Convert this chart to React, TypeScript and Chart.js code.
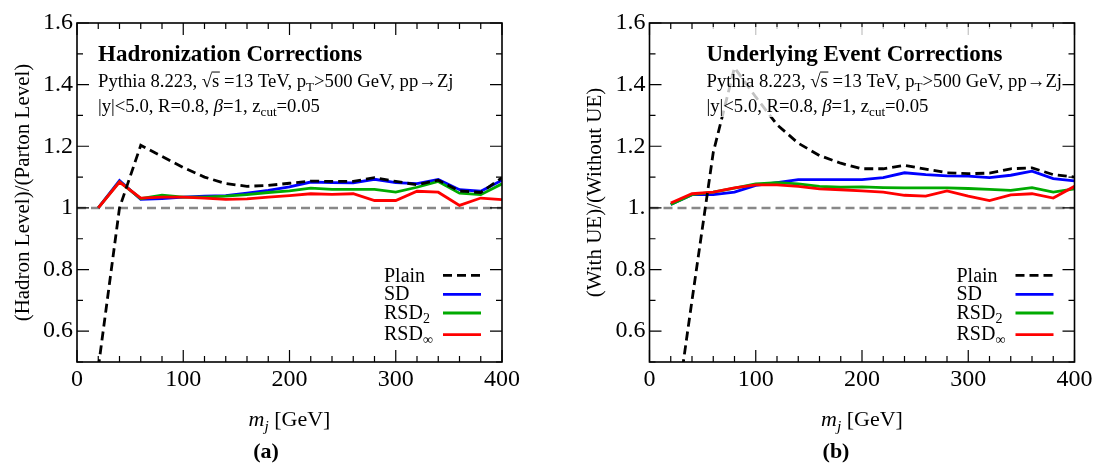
import React, { useEffect, useRef } from "react";
import { Chart, registerables } from "chart.js";

Chart.register(...registerables);

// ---------------- data ----------------
const mjValues = [20, 40, 60, 80, 100, 120, 140, 160, 180, 200, 220, 240, 260, 280, 300, 320, 340, 360, 380, 400];

// (a) Hadronization corrections
const hadPlain = [0.48, 1.0, 1.203, 1.167, 1.131, 1.1, 1.079, 1.07, 1.073, 1.08, 1.087, 1.086, 1.086, 1.098, 1.086, 1.075, 1.09, 1.055, 1.05, 1.098];
const hadSD = [1.0, 1.089, 1.028, 1.03, 1.035, 1.038, 1.04, 1.048, 1.057, 1.068, 1.084, 1.082, 1.081, 1.093, 1.082, 1.079, 1.092, 1.059, 1.054, 1.09];
const hadRSD2 = [1.0, 1.085, 1.03, 1.041, 1.035, 1.035, 1.038, 1.043, 1.05, 1.055, 1.064, 1.06, 1.06, 1.06, 1.051, 1.067, 1.086, 1.048, 1.043, 1.078];
const hadRSDInf = [1.0, 1.084, 1.032, 1.035, 1.035, 1.032, 1.028, 1.029, 1.035, 1.04, 1.046, 1.044, 1.046, 1.024, 1.024, 1.054, 1.051, 1.008, 1.032, 1.027];

// (b) Underlying event corrections
const uePlain = [0.21, 0.7, 1.18, 1.455, 1.36, 1.27, 1.21, 1.17, 1.145, 1.127, 1.127, 1.138, 1.126, 1.114, 1.111, 1.113, 1.127, 1.13, 1.108, 1.1];
const ueSD = [1.011, 1.043, 1.043, 1.051, 1.073, 1.082, 1.092, 1.092, 1.092, 1.092, 1.098, 1.114, 1.108, 1.104, 1.103, 1.098, 1.106, 1.119, 1.095, 1.088];
const ueRSD2 = [1.011, 1.043, 1.051, 1.064, 1.078, 1.082, 1.078, 1.07, 1.067, 1.068, 1.066, 1.065, 1.065, 1.065, 1.063, 1.06, 1.057, 1.066, 1.051, 1.062];
const ueRSDInf = [1.016, 1.046, 1.051, 1.065, 1.075, 1.075, 1.07, 1.062, 1.059, 1.055, 1.051, 1.041, 1.038, 1.055, 1.038, 1.024, 1.042, 1.046, 1.032, 1.07];

const xTickValues = [0, 100, 200, 300, 400];
const yTickValues = [0.6, 0.8, 1.0, 1.2, 1.4, 1.6];
const yTickLabelsHad = ["0.6", "0.8", "1", "1.2", "1.4", "1.6"];
const yTickLabelsUE = ["0.6", "0.8", "1.", "1.2", "1.4", "1.6"];

const legendNames = ["Plain", "SD", "RSD", "RSD"];
const legendSubs = ["", "", "2", "\u221E"];

// ---------------- styles ----------------
const SERIF = '"Liberation Serif", "Times New Roman", serif';
const seriesStyles = [
  { color: "#000000", dash: [9, 5], order: 0 },
  { color: "#0000ff", dash: [] as number[], order: 3 },
  { color: "#00aa00", dash: [] as number[], order: 2 },
  { color: "#ff0000", dash: [] as number[], order: 1 },
];

const CW = 548;
const CH = 468;
const AREA_TOP = 23;
const AREA_BOTTOM = 362;

type Seg = { t: string; sub?: boolean; it?: boolean; b?: boolean; over?: boolean };

function segFont(s: Seg, size: number) {
  const fs = s.sub ? size * 0.7 : size;
  return `${s.it ? "italic " : ""}${s.b ? "bold " : ""}${fs}px ${SERIF}`;
}

function measureRich(ctx: CanvasRenderingContext2D, segs: Seg[], size: number) {
  let w = 0;
  for (const s of segs) {
    ctx.font = segFont(s, size);
    w += ctx.measureText(s.t).width;
  }
  return w;
}

function drawRich(ctx: CanvasRenderingContext2D, x: number, y: number, segs: Seg[], size: number) {
  let cx = x;
  ctx.textAlign = "left";
  ctx.textBaseline = "alphabetic";
  for (const s of segs) {
    ctx.font = segFont(s, size);
    const dy = s.sub ? size * 0.22 : 0;
    ctx.fillText(s.t, cx, y + dy);
    const w = ctx.measureText(s.t).width;
    if (s.over) {
      ctx.save();
      ctx.lineWidth = 1;
      ctx.strokeStyle = "#000";
      ctx.beginPath();
      ctx.moveTo(cx - 0.5, y - size * 0.8);
      ctx.lineTo(cx + w + 0.5, y - size * 0.8);
      ctx.stroke();
      ctx.restore();
    }
    cx += w;
  }
  return cx - x;
}

const infoLine1: Seg[] = [
  { t: "Pythia 8.223, " },
  { t: "\u221A" },
  { t: "s", over: true },
  { t: " =13 TeV, p" },
  { t: "T", sub: true },
  { t: ">500 GeV, pp\u2192Zj" },
];
const infoLine2: Seg[] = [
  { t: "|y|<5.0, R=0.8, " },
  { t: "\u03B2", it: true },
  { t: "=1, z" },
  { t: "cut", sub: true },
  { t: "=0.05" },
];
const xTitleSegs: Seg[] = [{ t: "m", it: true }, { t: "j", it: true, sub: true }, { t: " [GeV]" }];

type Panel = {
  series: number[][];
  yLabels: string[];
  title: string;
  yTitle: string;
  caption: string;
  captionX: number;
  areaLeft: number;
  areaRight: number;
  textX: number;
  yTitleX: number;
  box: number[] | null;
};

const panels: Panel[] = [
  {
    series: [hadPlain, hadSD, hadRSD2, hadRSDInf],
    yLabels: yTickLabelsHad,
    title: "Hadronization Corrections",
    yTitle: "(Hadron Level)/(Parton Level)",
    caption: "(a)",
    captionX: 266,
    areaLeft: 77,
    areaRight: 502,
    textX: 98,
    yTitleX: 23,
    box: null,
  },
  {
    series: [uePlain, ueSD, ueRSD2, ueRSDInf],
    yLabels: yTickLabelsUE,
    title: "Underlying Event Corrections",
    yTitle: "(With UE)/(Without UE)",
    caption: "(b)",
    captionX: 288,
    areaLeft: 101.5,
    areaRight: 526.5,
    textX: 158.5,
    yTitleX: 47,
    box: [155, 27, 357, 90],
  },
];

function makePlugin(p: Panel) {
  return {
    id: "decor",
    beforeDatasetsDraw(chart: any) {
      const ctx: CanvasRenderingContext2D = chart.ctx;
      const a = chart.chartArea;
      const py = chart.scales.y.getPixelForValue(1.0);
      ctx.save();
      ctx.strokeStyle = "#888888";
      ctx.lineWidth = 2.5;
      ctx.setLineDash([9, 5]);
      ctx.beginPath();
      ctx.moveTo(a.left, py);
      ctx.lineTo(a.right, py);
      ctx.stroke();
      ctx.restore();
    },
    afterDatasetsDraw(chart: any) {
      const ctx: CanvasRenderingContext2D = chart.ctx;
      const a = chart.chartArea;
      const xs = chart.scales.x;
      const ys = chart.scales.y;
      ctx.save();
      ctx.strokeStyle = "#000";
      ctx.lineWidth = 1.2;
      ctx.beginPath();
      for (let v = 0; v <= 400; v += 20) {
        const px = xs.getPixelForValue(v);
        const L = v % 100 === 0 ? 12 : 6;
        ctx.moveTo(px, a.bottom);
        ctx.lineTo(px, a.bottom - L);
        ctx.moveTo(px, a.top);
        ctx.lineTo(px, a.top + L);
      }
      for (let i = 5; i <= 16; i++) {
        const py = ys.getPixelForValue(i / 10);
        const L = i % 2 === 0 ? 12 : 6;
        ctx.moveTo(a.left, py);
        ctx.lineTo(a.left + L, py);
        ctx.moveTo(a.right, py);
        ctx.lineTo(a.right - L, py);
      }
      ctx.stroke();
      ctx.lineWidth = 1.6;
      ctx.strokeRect(a.left, a.top, a.right - a.left, a.bottom - a.top);

      if (p.box) {
        ctx.fillStyle = "rgba(255,255,255,0.76)";
        ctx.fillRect(p.box[0], p.box[1], p.box[2], p.box[3]);
      }

      ctx.fillStyle = "#000";
      // title and info
      drawRich(ctx, p.textX, 61, [{ t: p.title, b: true }], 23);
      drawRich(ctx, p.textX, 87, infoLine1, 18.7);
      drawRich(ctx, p.textX, 112, infoLine2, 18.7);

      // legend
      const baseOff = [80, 62.4, 43.4, 22.4];
      const lineOff = [86.7, 67.7, 49, 27.4];
      for (let i = 0; i < legendNames.length; i++) {
        const segs: Seg[] = [{ t: legendNames[i] }];
        if (legendSubs[i]) segs.push({ t: legendSubs[i], sub: true });
        ctx.fillStyle = "#000";
        drawRich(ctx, a.right - 118, a.bottom - baseOff[i], segs, 20);
        const st = seriesStyles[i];
        ctx.strokeStyle = st.color;
        ctx.lineWidth = 2.8;
        ctx.setLineDash(st.dash);
        ctx.beginPath();
        const ly = a.bottom - lineOff[i];
        ctx.moveTo(a.right - 59, ly);
        ctx.lineTo(a.right - 21, ly);
        ctx.stroke();
        ctx.setLineDash([]);
      }

      // x title
      ctx.fillStyle = "#000";
      const cxm = (a.left + a.right) / 2;
      const w = measureRich(ctx, xTitleSegs, 22);
      drawRich(ctx, cxm - w / 2, 426, xTitleSegs, 22);
      // caption
      ctx.font = `bold 22px ${SERIF}`;
      ctx.textAlign = "center";
      ctx.fillText(p.caption, p.captionX, 458);
      // y title
      ctx.save();
      ctx.translate(p.yTitleX, (a.top + a.bottom) / 2);
      ctx.rotate(-Math.PI / 2);
      ctx.font = `21px ${SERIF}`;
      ctx.textAlign = "center";
      ctx.textBaseline = "middle";
      ctx.fillText(p.yTitle, 0, 0);
      ctx.restore();
      ctx.restore();
    },
  };
}

function makeConfig(p: Panel): any {
  return {
    type: "line",
    data: {
      datasets: p.series.map((vals, i) => ({
        label: legendNames[i] + legendSubs[i],
        data: mjValues.map((x, k) => ({ x, y: vals[k] })),
        borderColor: seriesStyles[i].color,
        borderWidth: 2.8,
        borderDash: seriesStyles[i].dash,
        pointRadius: 0,
        fill: false,
        tension: 0,
        order: seriesStyles[i].order,
      })),
    },
    options: {
      responsive: false,
      animation: false,
      devicePixelRatio: 1,
      layout: { padding: { left: 0, right: CW - p.areaRight, top: AREA_TOP, bottom: 0 } },
      plugins: { legend: { display: false }, tooltip: { enabled: false } },
      scales: {
        x: {
          type: "linear",
          min: 0,
          max: 400,
          grid: { display: false, drawTicks: false },
          border: { display: false },
          ticks: {
            font: { family: SERIF, size: 24 },
            color: "#000",
            padding: 3,
            maxRotation: 0,
            autoSkip: false,
            callback: (v: number) => String(v),
          },
          afterBuildTicks: (s: any) => {
            s.ticks = xTickValues.map((v) => ({ value: v }));
          },
          afterFit: (s: any) => {
            s.height = CH - AREA_BOTTOM;
            s.paddingLeft = 0;
            s.paddingRight = 0;
          },
        },
        y: {
          type: "linear",
          min: 0.5,
          max: 1.6,
          grid: { display: false, drawTicks: false },
          border: { display: false },
          ticks: {
            font: { family: SERIF, size: 24 },
            color: "#000",
            padding: 4,
            autoSkip: false,
            callback: (_v: number, idx: number) => p.yLabels[idx] ?? "",
          },
          afterBuildTicks: (s: any) => {
            s.ticks = yTickValues.map((v) => ({ value: v }));
          },
          afterFit: (s: any) => {
            s.width = p.areaLeft;
            s.paddingTop = 0;
            s.paddingBottom = 0;
          },
        },
      },
    },
    plugins: [makePlugin(p)],
  };
}

export default function App() {
  const leftRef = useRef<HTMLCanvasElement | null>(null);
  const rightRef = useRef<HTMLCanvasElement | null>(null);

  useEffect(() => {
    const charts: Chart[] = [];
    if (leftRef.current) charts.push(new Chart(leftRef.current, makeConfig(panels[0])));
    if (rightRef.current) charts.push(new Chart(rightRef.current, makeConfig(panels[1])));
    return () => charts.forEach((c) => c.destroy());
  }, []);

  return (
    <div style={{ position: "absolute", left: 0, top: 0, width: 1096, height: 468, background: "#fff" }}>
      <canvas ref={leftRef} width={CW} height={CH} style={{ position: "absolute", left: 0, top: 0, width: CW, height: CH }} />
      <canvas ref={rightRef} width={CW} height={CH} style={{ position: "absolute", left: CW, top: 0, width: CW, height: CH }} />
    </div>
  );
}
